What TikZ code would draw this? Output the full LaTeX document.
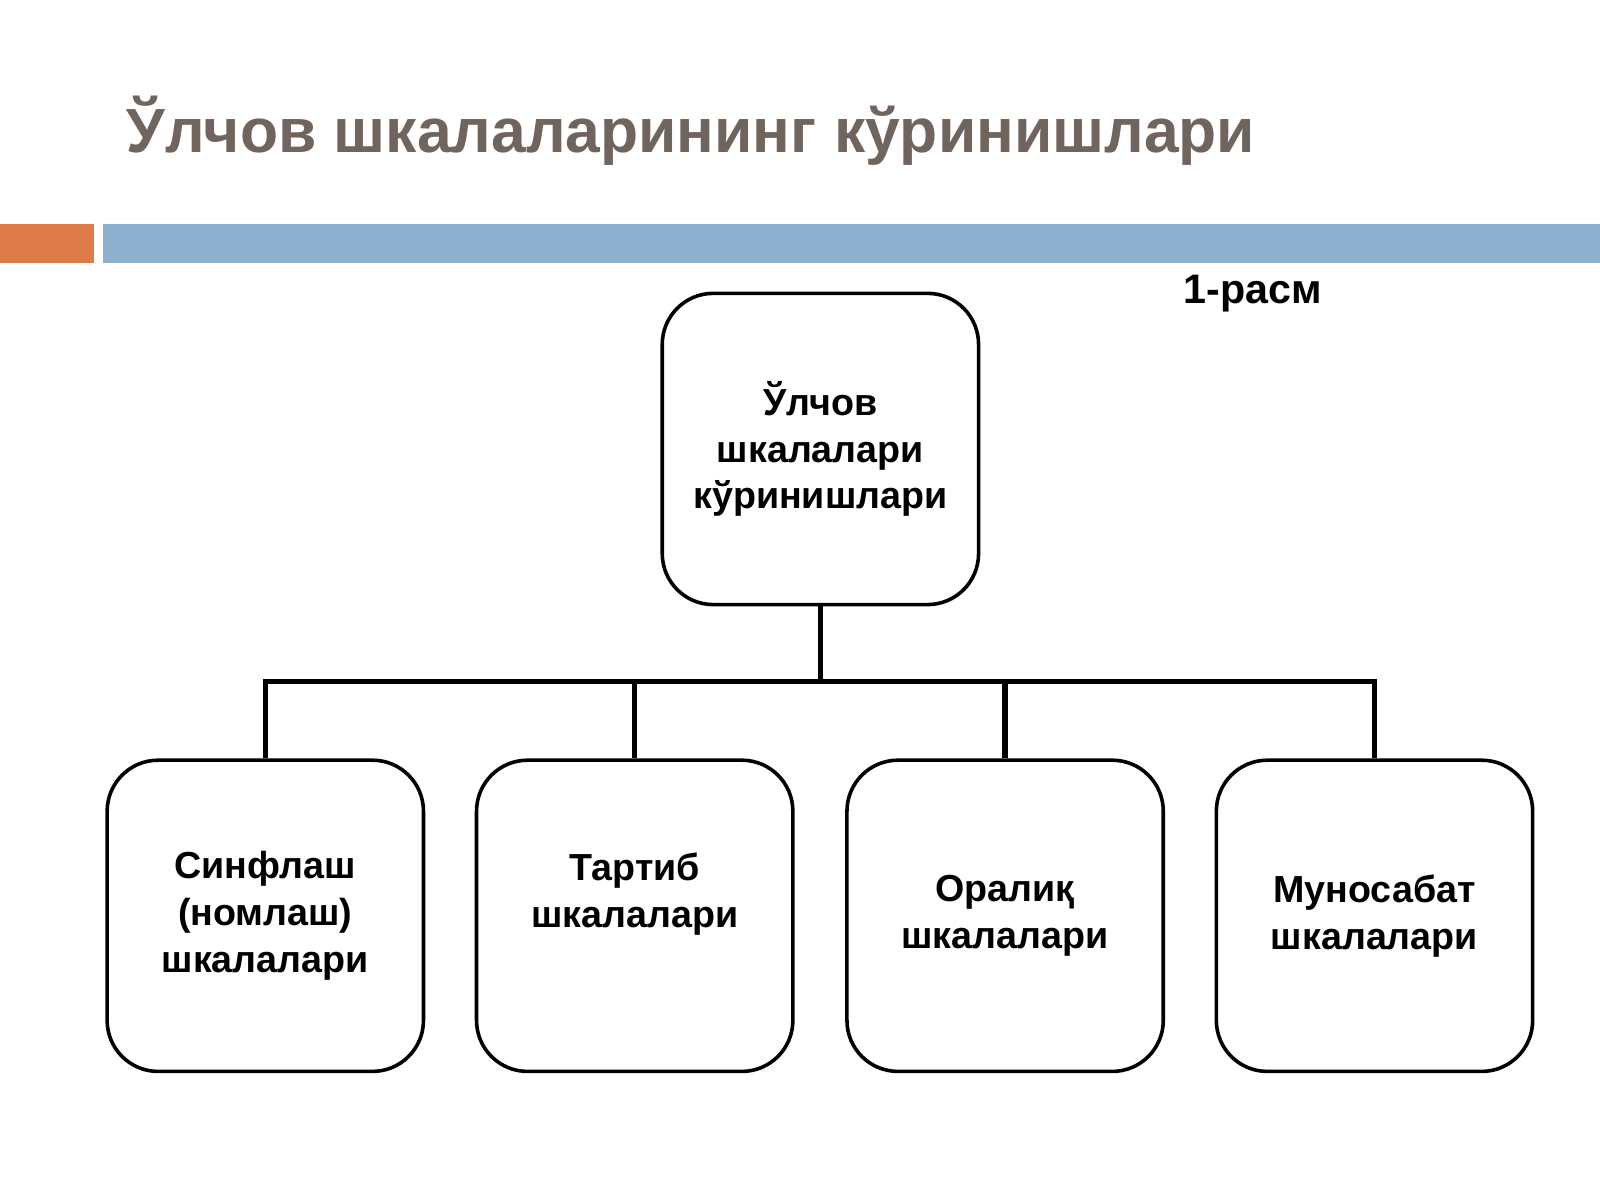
\documentclass[tikz,border=0pt]{standalone}
\usepackage{fontspec}
\setmainfont{Liberation Sans}
\definecolor{titlegray}{RGB}{112,100,95}
\definecolor{barorange}{RGB}{221,124,72}
\definecolor{barblue}{RGB}{143,176,206}
\begin{document}
\begin{tikzpicture}[x=1cm,y=1cm,
    box/.style={draw=black, line width=1pt, rounded corners=0.5cm, minimum width=3.1cm, minimum height=3.05cm, align=center, font=\bfseries\fontsize{10.5}{13}\selectfont}]
            \useasboundingbox (0,0) rectangle (15.68,-11.76);
            \fill[barorange] (0,-2.2) rectangle (0.92,-2.58);
            \fill[barblue] (1.01,-2.2) rectangle (15.68,-2.58);
            \node [anchor=west, text=titlegray, font=\bfseries\fontsize{17.4}{21}\selectfont] (title) at (1.12,-1.28) {Ўлчов шкалаларининг кўринишлари};
            \node [font=\bfseries\fontsize{11.5}{14}\selectfont] (fig) at (12.28,-2.88) {1-расм};
            
            \node [box] (T) at (8.04,-4.4) {Ўлчов\\шкалалари\\кўринишлари};
            
            \node [box] (A) at (2.60,-8.975) {Синфлаш\\(номлаш)\\шкалалари};
            \node [box] (B) at (6.22,-8.975) {Тартиб\\шкалалари\\[0.05cm]};
            \node [box] (C) at (9.85,-8.975) {Оралиқ\\шкалалари};
            \node [box] (D) at (13.47,-8.975) {Муносабат\\шкалалари};
            
            \coordinate (M) at (8.04,-6.68);
            \draw [line width=1.5pt] (T) -- (M);
            \draw [line width=1.5pt] (A.north) |- (M) -| (D.north);
            \draw [line width=1.5pt] (B.north) -- (B.north |- M);
            \draw [line width=1.5pt] (C.north) -- (C.north |- M);
        \end{tikzpicture}
\end{document}
